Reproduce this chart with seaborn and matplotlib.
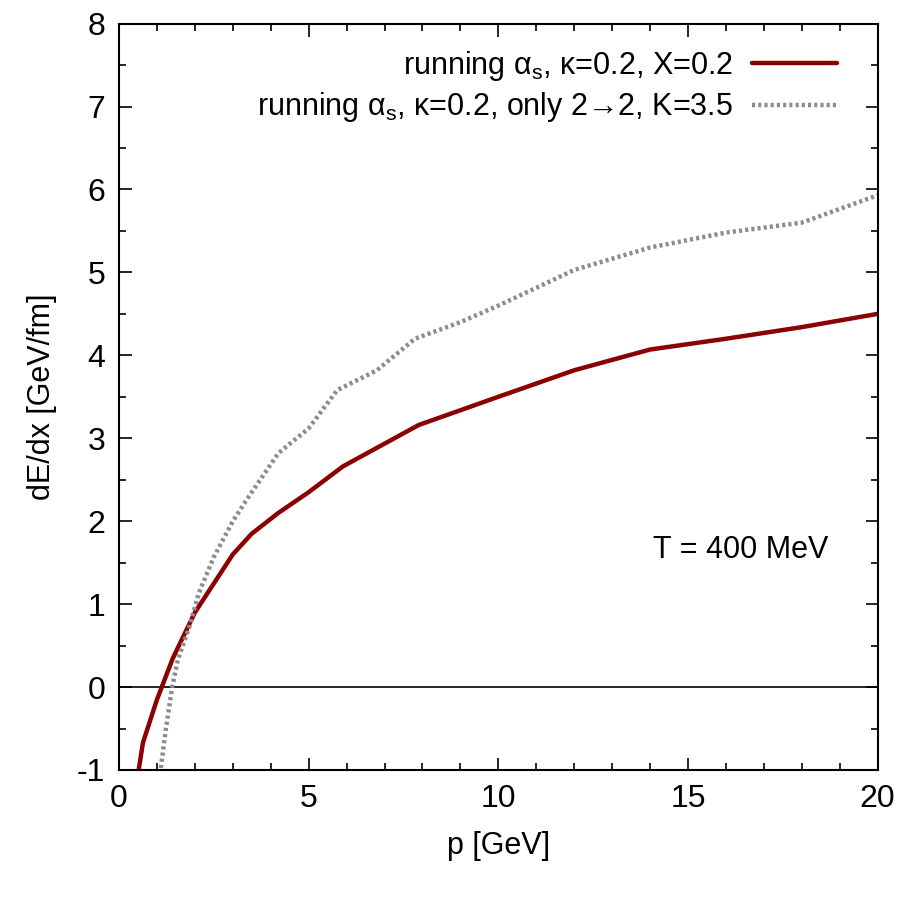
import numpy as np
import pandas as pd
import matplotlib
matplotlib.use("Agg")
import matplotlib.pyplot as plt
import seaborn as sns
from matplotlib.ticker import MultipleLocator

# data
p_red = [0.5, 0.63, 1.0, 1.42, 2.0, 3.0, 3.5, 4.2, 5.0, 5.9, 7.9, 10, 12, 14, 16, 18, 20]
e_red = [-1.05, -0.67, -0.15, 0.35, 0.9, 1.6, 1.85, 2.1, 2.35, 2.66, 3.16, 3.5, 3.82, 4.07, 4.2, 4.34, 4.5]
p_gray = [1.08, 1.23, 1.4, 1.55, 1.85, 2.1, 2.5, 3.0, 3.35, 4.2, 5.0, 5.75, 6.8, 7.8, 9, 10, 11.4, 12, 14, 16, 18, 20]
e_gray = [-1.05, -0.52, 0.0, 0.33, 0.72, 1.13, 1.57, 2.0, 2.25, 2.82, 3.12, 3.58, 3.82, 4.2, 4.4, 4.6, 4.9, 5.03, 5.3, 5.48, 5.6, 5.93]
label_red = "running α$_\\mathregular{s}$, κ=0.2, X=0.2"
label_gray = "running α$_\\mathregular{s}$, κ=0.2, only 2→2, K=3.5"
xticks = [0, 5, 10, 15, 20]
yticks = [-1, 0, 1, 2, 3, 4, 5, 6, 7, 8]

sns.set_style("ticks")
fs = 22
plt.rcParams['font.family'] = ['Liberation Sans', 'DejaVu Sans']
plt.rcParams['mathtext.default'] = 'regular'
plt.rcParams['axes.unicode_minus'] = False
for k in ['text.color', 'axes.labelcolor', 'xtick.color', 'ytick.color', 'axes.edgecolor']:
    plt.rcParams[k] = 'black'

fig = plt.figure(figsize=(9.02, 9.08), dpi=100)
ax = fig.add_axes([0.132, 0.152, 0.841, 0.822])

df_red = pd.DataFrame({"p": p_red, "E": e_red})
df_gray = pd.DataFrame({"p": p_gray, "E": e_gray})

sns.lineplot(data=df_red, x="p", y="E", ax=ax, color="#8b0000", lw=3.2,
             label=label_red, sort=False)
sns.lineplot(data=df_gray, x="p", y="E", ax=ax, color="#8c8c8c", lw=3.2,
             linestyle=(0, (0.7, 0.7)), label=label_gray, sort=False)

ax.axhline(0, color="black", lw=1.2, zorder=1)

ax.set_xlim(0, 20)
ax.set_ylim(-1, 8)
ax.set_xticks(xticks)
ax.set_yticks(yticks)
ax.xaxis.set_minor_locator(MultipleLocator(1))
ax.yaxis.set_minor_locator(MultipleLocator(0.5))
ax.tick_params(which="both", direction="in", top=True, right=True, labelsize=23,
               colors="black")
ax.tick_params(which="major", length=9, width=1.2)
ax.tick_params(which="minor", length=5, width=1.2)
ax.tick_params(axis="x", pad=10)
ax.tick_params(axis="y", pad=10)
for s in ax.spines.values():
    s.set_linewidth(1.5)
    s.set_color("black")

ax.set_xlabel("p [GeV]", fontsize=fs, labelpad=12, color="black")
ax.set_ylabel("dE/dx [GeV/fm]", fontsize=fs, labelpad=14, color="black")

ax.text(16.4, 1.65, "T = 400 MeV", fontsize=fs, ha="center", va="center", color="black")

leg = ax.legend(loc="upper right", frameon=False, markerfirst=False, fontsize=fs,
                handlelength=2.8, handletextpad=0.6, labelspacing=0.25,
                borderaxespad=0.3, bbox_to_anchor=(0.975, 0.995))
for t in leg.get_texts():
    t.set_color("black")

fig.savefig("out.png", dpi=100, facecolor="white")
